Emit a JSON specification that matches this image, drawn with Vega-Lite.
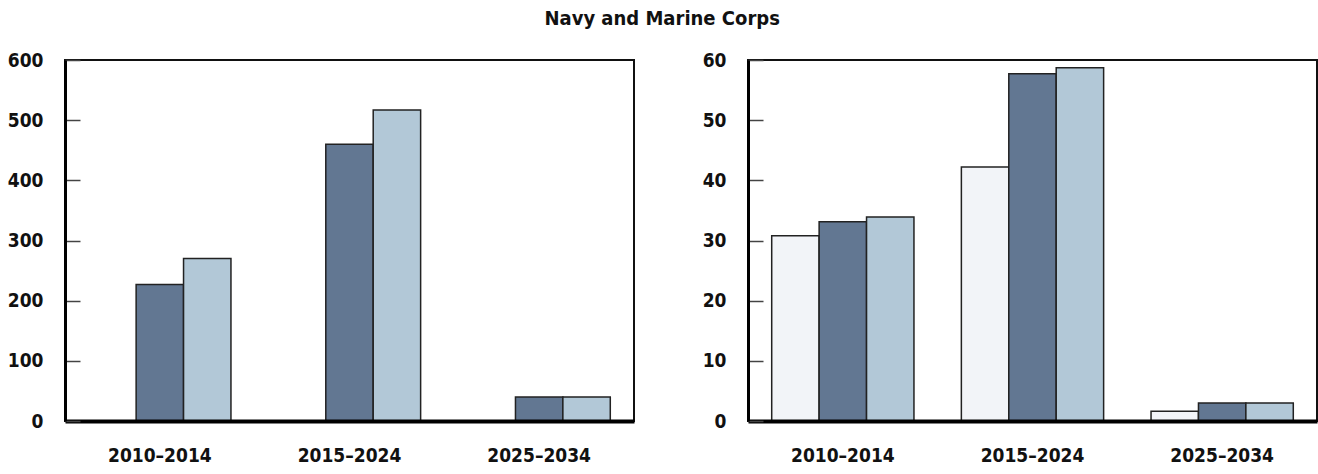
{
  "$schema": "https://vega.github.io/schema/vega-lite/v6.json",
  "padding": {"left": 6, "top": 9, "right": 2, "bottom": 0},
  "title": {"text": "Navy and Marine Corps", "fontSize": 20, "font": "DejaVu Sans Condensed", "fontWeight": "bold", "anchor": "middle", "offset": 21, "color": "#111"},
  "data": {"values": [
    {"panel": "left", "period": "2010–2014", "series": "B", "value": 227},
    {"panel": "left", "period": "2010–2014", "series": "C", "value": 270},
    {"panel": "left", "period": "2015–2024", "series": "B", "value": 460},
    {"panel": "left", "period": "2015–2024", "series": "C", "value": 517},
    {"panel": "left", "period": "2025–2034", "series": "B", "value": 40},
    {"panel": "left", "period": "2025–2034", "series": "C", "value": 40},
    {"panel": "right", "period": "2010–2014", "series": "A", "value": 30.8},
    {"panel": "right", "period": "2010–2014", "series": "B", "value": 33.1},
    {"panel": "right", "period": "2010–2014", "series": "C", "value": 33.9},
    {"panel": "right", "period": "2015–2024", "series": "A", "value": 42.2},
    {"panel": "right", "period": "2015–2024", "series": "B", "value": 57.7},
    {"panel": "right", "period": "2015–2024", "series": "C", "value": 58.7},
    {"panel": "right", "period": "2025–2034", "series": "A", "value": 1.6},
    {"panel": "right", "period": "2025–2034", "series": "B", "value": 3.0},
    {"panel": "right", "period": "2025–2034", "series": "C", "value": 3.0}
  ]},
  "config": {
    "view": {"stroke": "#111", "strokeWidth": 2},
    "axis": {"labelFont": "DejaVu Sans Condensed", "labelFontWeight": "bold", "labelFontSize": 19, "labelColor": "#111", "title": null, "grid": false},
    "concat": {"spacing": 66}
  },
  "resolve": {"scale": {"y": "independent", "x": "independent"}},
  "hconcat": [
    {
      "width": 569, "height": 361,
      "transform": [{"filter": "datum.panel == 'left'"}],
      "mark": {"type": "bar", "stroke": "#222", "strokeWidth": 1.5},
      "encoding": {
        "x": {"field": "period", "type": "nominal", "sort": null, "scale": {"paddingInner": 0.25, "paddingOuter": 0.125},
              "axis": {"labelAngle": 0, "ticks": false, "domainWidth": 4, "domainColor": "#000", "labelPadding": 25, "zindex": 1}},
        "xOffset": {"field": "series", "type": "nominal", "scale": {"domain": ["A", "B", "C"], "paddingInner": 0, "paddingOuter": 0}},
        "y": {"field": "value", "type": "quantitative", "scale": {"domain": [0, 600]},
              "axis": {"values": [0, 100, 200, 300, 400, 500, 600], "tickSize": -15, "labelPadding": 37, "tickColor": "#444", "tickWidth": 1.5, "domainWidth": 3, "domainColor": "#000", "zindex": 1}},
        "color": {"field": "series", "type": "nominal", "scale": {"domain": ["A", "B", "C"], "range": ["#f2f4f8", "#627792", "#b2c8d7"]}, "legend": null}
      }
    },
    {
      "width": 569, "height": 361,
      "transform": [{"filter": "datum.panel == 'right'"}],
      "mark": {"type": "bar", "stroke": "#222", "strokeWidth": 1.5},
      "encoding": {
        "x": {"field": "period", "type": "nominal", "sort": null, "scale": {"paddingInner": 0.25, "paddingOuter": 0.125},
              "axis": {"labelAngle": 0, "ticks": false, "domainWidth": 4, "domainColor": "#000", "labelPadding": 25, "zindex": 1}},
        "xOffset": {"field": "series", "type": "nominal", "scale": {"domain": ["A", "B", "C"], "paddingInner": 0, "paddingOuter": 0}},
        "y": {"field": "value", "type": "quantitative", "scale": {"domain": [0, 60]},
              "axis": {"values": [0, 10, 20, 30, 40, 50, 60], "tickSize": -15, "labelPadding": 37, "tickColor": "#444", "tickWidth": 1.5, "domainWidth": 3, "domainColor": "#000", "zindex": 1}},
        "color": {"field": "series", "type": "nominal", "scale": {"domain": ["A", "B", "C"], "range": ["#f2f4f8", "#627792", "#b2c8d7"]}, "legend": null}
      }
    }
  ]
}
